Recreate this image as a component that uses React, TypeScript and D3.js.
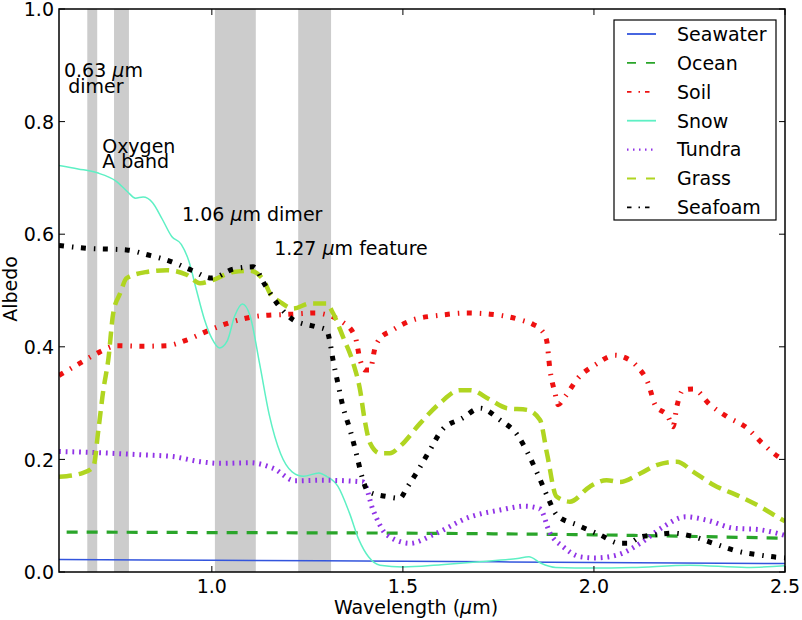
import React from "react";
import * as d3 from "d3";

// ---------- data ----------
const xTickValues = [1.0, 1.5, 2.0, 2.5];
const xTickLabels = ["1.0", "1.5", "2.0", "2.5"];
const yTickValues = [0, 0.2, 0.4, 0.6, 0.8, 1.0];
const yTickLabels = ["0.0", "0.2", "0.4", "0.6", "0.8", "1.0"];

const bandRanges: [number, number][] = [
  [0.674, 0.7],
  [0.744, 0.783],
  [1.008, 1.115],
  [1.226, 1.312],
];

const seawater: [number, number][] = [
  [0.6, 0.022], [1.0, 0.021], [1.5, 0.019], [2.0, 0.017], [2.5, 0.015],
];

const ocean: [number, number][] = [
  [0.62, 0.071], [1.0, 0.07], [1.5, 0.069], [2.0, 0.066], [2.5, 0.06],
];

const soil: [number, number][] = [
  [0.6, 0.349], [0.655, 0.371], [0.707, 0.391], [0.751, 0.402], [0.82, 0.401],
  [0.882, 0.402], [0.934, 0.412], [0.995, 0.43], [1.056, 0.445], [1.126, 0.455],
  [1.213, 0.458], [1.27, 0.46], [1.309, 0.455], [1.34, 0.445], [1.375, 0.418],
  [1.388, 0.377], [1.4, 0.359], [1.414, 0.359], [1.427, 0.398], [1.44, 0.415],
  [1.466, 0.427], [1.527, 0.448], [1.597, 0.456], [1.668, 0.46], [1.728, 0.458],
  [1.807, 0.448], [1.84, 0.44], [1.862, 0.43], [1.876, 0.412], [1.885, 0.359],
  [1.898, 0.318], [1.906, 0.297], [1.924, 0.311], [1.959, 0.345], [2.003, 0.368],
  [2.055, 0.385], [2.077, 0.382], [2.113, 0.365], [2.142, 0.335], [2.16, 0.297],
  [2.194, 0.276], [2.207, 0.258], [2.217, 0.294], [2.233, 0.323], [2.26, 0.325],
  [2.304, 0.297], [2.348, 0.276], [2.4, 0.256], [2.44, 0.229], [2.482, 0.205],
  [2.5, 0.198],
];

const snow: [number, number][] = [
  [0.6, 0.722], [0.65, 0.716], [0.7, 0.709], [0.75, 0.694], [0.78, 0.675],
  [0.8, 0.664], [0.82, 0.666], [0.845, 0.656], [0.87, 0.627], [0.895, 0.596],
  [0.92, 0.582], [0.94, 0.552], [0.96, 0.5], [0.98, 0.45], [1.0, 0.415],
  [1.02, 0.398], [1.04, 0.41], [1.06, 0.455], [1.08, 0.476], [1.1, 0.455],
  [1.125, 0.37], [1.15, 0.28], [1.18, 0.21], [1.21, 0.178], [1.24, 0.17],
  [1.28, 0.176], [1.3, 0.17], [1.33, 0.152], [1.36, 0.105], [1.385, 0.057],
  [1.41, 0.027], [1.44, 0.012], [1.5, 0.009], [1.6, 0.013], [1.7, 0.018],
  [1.8, 0.024], [1.83, 0.027], [1.86, 0.016], [1.9, 0.008], [2.0, 0.007],
  [2.1, 0.008], [2.25, 0.012], [2.4, 0.008], [2.5, 0.011],
];

const tundra: [number, number][] = [
  [0.6, 0.214], [0.655, 0.213], [0.733, 0.211], [0.82, 0.208], [0.898, 0.205],
  [0.969, 0.196], [1.021, 0.193], [1.1, 0.194], [1.161, 0.184], [1.218, 0.162],
  [1.292, 0.163], [1.396, 0.16], [1.422, 0.11], [1.458, 0.066], [1.519, 0.051],
  [1.579, 0.066], [1.676, 0.098], [1.754, 0.11], [1.82, 0.117], [1.859, 0.112],
  [1.885, 0.069], [1.919, 0.045], [1.964, 0.027], [2.003, 0.025], [2.06, 0.03],
  [2.121, 0.051], [2.181, 0.08], [2.239, 0.098], [2.296, 0.092], [2.364, 0.078],
  [2.435, 0.075], [2.5, 0.065],
];

const grass: [number, number][] = [
  [0.6, 0.169], [0.663, 0.176], [0.69, 0.187], [0.703, 0.252], [0.716, 0.323],
  [0.729, 0.377], [0.742, 0.46], [0.76, 0.495], [0.777, 0.522], [0.83, 0.533],
  [0.882, 0.536], [0.934, 0.528], [0.969, 0.513], [1.004, 0.519], [1.056, 0.533],
  [1.1, 0.535], [1.135, 0.519], [1.152, 0.495], [1.178, 0.48], [1.213, 0.468],
  [1.257, 0.477], [1.3, 0.477], [1.317, 0.46], [1.343, 0.418], [1.37, 0.371],
  [1.388, 0.323], [1.4, 0.27], [1.414, 0.229], [1.44, 0.211], [1.466, 0.211],
  [1.492, 0.223], [1.545, 0.264], [1.597, 0.3], [1.649, 0.323], [1.676, 0.323],
  [1.728, 0.306], [1.772, 0.291], [1.825, 0.288], [1.859, 0.27], [1.877, 0.211],
  [1.902, 0.134], [1.937, 0.125], [1.99, 0.152], [2.033, 0.163], [2.068, 0.16],
  [2.121, 0.175], [2.164, 0.19], [2.217, 0.196], [2.26, 0.178], [2.312, 0.155],
  [2.382, 0.134], [2.435, 0.116], [2.487, 0.095], [2.5, 0.09],
];

const seafoam: [number, number][] = [
  [0.6, 0.58], [0.672, 0.575], [0.777, 0.572], [0.834, 0.563], [0.895, 0.551],
  [0.947, 0.536], [1.0, 0.522], [1.056, 0.538], [1.108, 0.542], [1.139, 0.51],
  [1.174, 0.474], [1.213, 0.448], [1.27, 0.436], [1.3, 0.43], [1.309, 0.409],
  [1.317, 0.377], [1.33, 0.335], [1.343, 0.294], [1.362, 0.252], [1.38, 0.205],
  [1.393, 0.169], [1.409, 0.143], [1.458, 0.134], [1.492, 0.131], [1.51, 0.149],
  [1.54, 0.181], [1.571, 0.217], [1.602, 0.252], [1.655, 0.273], [1.702, 0.291],
  [1.754, 0.27], [1.8, 0.243], [1.827, 0.211], [1.854, 0.172], [1.877, 0.136],
  [1.903, 0.101], [1.958, 0.083], [2.016, 0.066], [2.068, 0.051], [2.089, 0.051],
  [2.121, 0.062], [2.16, 0.066], [2.207, 0.069], [2.259, 0.063], [2.312, 0.051],
  [2.382, 0.036], [2.435, 0.03], [2.482, 0.026], [2.5, 0.025],
];

const seriesNames = ["Seawater", "Ocean", "Soil", "Snow", "Tundra", "Grass", "Seafoam"];
const seriesData = [seawater, ocean, soil, snow, tundra, grass, seafoam];

// ---------- styles ----------
const seriesStyles = [
  { color: "#3355dd", width: 1.5, dash: "", legendDash: "" },
  { color: "#2aa52a", width: 3.2, dash: "11 9", legendDash: "9 10" },
  { color: "#ee1111", width: 5, dash: "5 8 1.5 7.5", legendDash: "4.5 7 1.5 5" },
  { color: "#5ef0c4", width: 1.5, dash: "", legendDash: "" },
  { color: "#9133e6", width: 5, dash: "1.8 4.9", legendDash: "1.5 4.5" },
  { color: "#b0d521", width: 4.5, dash: "13 7", legendDash: "9 10" },
  { color: "#000000", width: 5, dash: "5 8 1.5 7.5", legendDash: "4.5 7 1.5 5" },
];

const FONT = "DejaVu Sans, sans-serif";
const FS = 19;

export default function App() {
  const width = 802;
  const height = 620;
  const left = 59, right = 785, top = 9, bottom = 572;

  const x = d3.scaleLinear().domain([0.6, 2.5]).range([left, right]);
  const y = d3.scaleLinear().domain([0, 1]).range([bottom, top]);

  const line = d3
    .line<[number, number]>()
    .x((d) => x(d[0]))
    .y((d) => y(d[1]))
    .curve(d3.curveMonotoneX);

  const mu = <tspan fontStyle="italic">μ</tspan>;

  const legendLeft = 614, legendTop = 20, legendRight = 776, legendBottom = 220;
  const legendRow0 = 34, legendStep = 28.9;

  return (
    <svg
      width={width}
      height={height}
      style={{ position: "absolute", left: 0, top: 0, background: "#fff" }}
      fontFamily={FONT}
    >
      <rect x={0} y={0} width={width} height={height} fill="#fff" />
      <defs>
        <clipPath id="plotclip">
          <rect x={left} y={top} width={right - left} height={bottom - top} />
        </clipPath>
      </defs>

      {/* gray bands */}
      {bandRanges.map((b, i) => (
        <rect
          key={i}
          x={x(b[0])}
          y={top}
          width={x(b[1]) - x(b[0])}
          height={bottom - top}
          fill="#cccccc"
        />
      ))}

      {/* annotations */}
      <g fontSize={FS} fill="#000">
        <text x={x(0.613)} y={77}>0.63 {mu}m</text>
        <text x={x(0.624)} y={93.3}>dimer</text>
        <text x={x(0.713)} y={152.7}>Oxygen</text>
        <text x={x(0.713)} y={168.3}>A band</text>
        <text x={x(0.922)} y={221}>1.06 {mu}m dimer</text>
        <text x={x(1.163)} y={255}>1.27 {mu}m feature</text>
      </g>

      {/* series */}
      <g clipPath="url(#plotclip)">
        {seriesData.map((d, i) => (
          <path
            key={seriesNames[i]}
            d={line(d) || ""}
            fill="none"
            stroke={seriesStyles[i].color}
            strokeWidth={seriesStyles[i].width}
            strokeDasharray={seriesStyles[i].dash || undefined}
            strokeLinejoin="round"
          />
        ))}
      </g>

      {/* frame */}
      <rect
        x={left}
        y={top}
        width={right - left}
        height={bottom - top}
        fill="none"
        stroke="#000"
        strokeWidth={1.5}
      />

      {/* ticks */}
      <g stroke="#000" strokeWidth={1}>
        {xTickValues.map((v, i) => (
          <g key={"xt" + i}>
            <line x1={x(v)} x2={x(v)} y1={bottom} y2={bottom - 6} />
            <line x1={x(v)} x2={x(v)} y1={top} y2={top + 6} />
          </g>
        ))}
        {yTickValues.map((v, i) => (
          <g key={"yt" + i}>
            <line x1={left} x2={left + 6} y1={y(v)} y2={y(v)} />
            <line x1={right} x2={right - 6} y1={y(v)} y2={y(v)} />
          </g>
        ))}
      </g>

      {/* tick labels */}
      <g fontSize={FS} fill="#000">
        {xTickValues.map((v, i) => (
          <text key={"xl" + i} x={x(v)} y={592.5} textAnchor="middle">
            {xTickLabels[i]}
          </text>
        ))}
        {yTickValues.map((v, i) => (
          <text key={"yl" + i} x={54} y={y(v)} dy="0.38em" textAnchor="end">
            {yTickLabels[i]}
          </text>
        ))}
      </g>

      {/* axis labels */}
      <text x={416} y={614} fontSize={FS} textAnchor="middle">
        Wavelength ({mu}m)
      </text>
      <text
        transform="translate(16.5,289) rotate(-90)"
        fontSize={FS}
        textAnchor="middle"
      >
        Albedo
      </text>

      {/* legend */}
      <rect
        x={legendLeft}
        y={legendTop}
        width={legendRight - legendLeft}
        height={legendBottom - legendTop}
        fill="#fff"
        stroke="#000"
        strokeWidth={1.2}
      />
      {seriesNames.map((name, i) => {
        const cy = legendRow0 + i * legendStep;
        const s = seriesStyles[i];
        return (
          <g key={"lg" + name}>
            <line
              x1={627}
              x2={656}
              y1={cy}
              y2={cy}
              stroke={s.color}
              strokeWidth={i === 4 ? 2.2 : 1.8}
              strokeDasharray={s.legendDash || undefined}
            />
            <text x={677} y={cy} dy="0.36em" fontSize={FS}>
              {name}
            </text>
          </g>
        );
      })}
    </svg>
  );
}
